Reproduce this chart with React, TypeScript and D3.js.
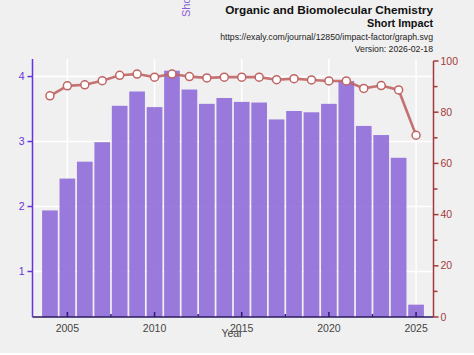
import React from "react";
import * as d3 from "d3";

const years = [2004, 2005, 2006, 2007, 2008, 2009, 2010, 2011, 2012, 2013, 2014, 2015, 2016, 2017, 2018, 2019, 2020, 2021, 2022, 2023, 2024, 2025];
const shortImpact = [1.94, 2.43, 2.69, 2.99, 3.55, 3.77, 3.53, 4.09, 3.80, 3.58, 3.67, 3.61, 3.60, 3.34, 3.47, 3.45, 3.58, 3.93, 3.24, 3.10, 2.75, 0.49];
const percentile = [86.4, 90.3, 90.7, 92.3, 94.4, 94.9, 93.7, 94.9, 93.9, 93.4, 93.7, 93.7, 93.7, 92.7, 93.1, 92.6, 92.2, 92.2, 89.3, 90.4, 88.7, 71.0];
const leftTicks = [1, 2, 3, 4];
const rightTicks = [0, 20, 40, 60, 80, 100];
const rightMinor = [10, 30, 50, 70, 90];
const xTicks = [2005, 2010, 2015, 2020, 2025];
const xMinor = [2007.5, 2012.5, 2017.5, 2022.5];

const W = 474, H = 355;
const left = 32.5, right = 433.5, top = 59, bottom = 317;
const font = "'Liberation Sans', Arial, sans-serif";

export default function App() {
  const x = d3.scaleLinear().domain([2003, 2026]).range([left, right]);
  const yL = d3.scaleLinear().domain([0.3, 4.27]).range([bottom, top]);
  const yR = d3.scaleLinear().domain([0, 100]).range([bottom, 61]);
  const bw = (x(2004) - x(2003)) * 0.9;
  const line = d3.line<number>().x((_, i) => x(years[i])).y((d) => yR(d));
  const purple = "#6633dd";
  const red = "#a33a3a";
  return (
    <svg width={W} height={H} style={{ position: "absolute", left: 0, top: 0 }} fontFamily={font}>
      <rect x={0} y={0} width={W} height={353} fill="#f0f0f0" />
      {leftTicks.map((t) => (
        <line key={"g" + t} x1={left} x2={right} y1={yL(t)} y2={yL(t)} stroke="#ffffff" strokeWidth={1.5} />
      ))}
      {xTicks.map((t) => (
        <line key={"gx" + t} x1={x(t)} x2={x(t)} y1={top} y2={bottom} stroke="#ffffff" strokeWidth={1.5} />
      ))}
      {years.map((yr, i) => (
        <rect key={yr} x={x(yr) - bw / 2} y={yL(shortImpact[i])} width={bw} height={bottom - yL(shortImpact[i])} fill="#9370db" fillOpacity={0.93} />
      ))}
      <path d={line(percentile) || ""} fill="none" stroke="#c06464" strokeOpacity={0.9} strokeWidth={2.6} />
      {percentile.map((p, i) => (
        <circle key={i} cx={x(years[i])} cy={yR(p)} r={4} fill="#ffffff" stroke="#c06464" strokeWidth={1.5} />
      ))}
      {/* bottom axis */}
      <line x1={left} x2={right} y1={bottom} y2={bottom} stroke="#2a1a60" strokeWidth={1.5} />
      {xTicks.map((t) => (
        <g key={"xt" + t}>
          <line x1={x(t)} x2={x(t)} y1={bottom} y2={bottom - 5} stroke="#2a1a70" strokeWidth={1.5} />
          <text x={x(t)} y={332} textAnchor="middle" fontSize={10.5} fill="#444">{t}</text>
        </g>
      ))}
      {xMinor.map((t) => (
        <line key={"xm" + t} x1={x(t)} x2={x(t)} y1={bottom} y2={bottom - 3} stroke="#2a1a70" strokeWidth={1.5} />
      ))}
      <text x={232} y={337} textAnchor="middle" fontSize={10.5} fill="#444">Year</text>
      {/* left axis */}
      <line x1={left} x2={left} y1={top} y2={bottom} stroke={purple} strokeWidth={1.5} />
      {leftTicks.map((t) => (
        <g key={"lt" + t}>
          <line x1={left - 5} x2={left} y1={yL(t)} y2={yL(t)} stroke={purple} strokeWidth={1.5} />
          <text x={left - 8} y={yL(t) + 3.5} textAnchor="end" fontSize={10.5} fill={purple}>{t}</text>
        </g>
      ))}
      <text transform={`translate(190,17) rotate(-90)`} fontSize={11} fill="#8a5ce0" textAnchor="start">Short Impact</text>
      {/* right axis */}
      <line x1={right} x2={right} y1={61} y2={bottom} stroke={red} strokeWidth={1.5} />
      {rightTicks.map((t) => (
        <g key={"rt" + t}>
          <line x1={right} x2={right + 5} y1={yR(t)} y2={yR(t)} stroke={red} strokeWidth={1.5} />
          <text x={right + 7} y={yR(t) + 3.5} textAnchor="start" fontSize={10.5} fill={red}>{t}</text>
        </g>
      ))}
      {rightMinor.map((t) => (
        <line key={"rm" + t} x1={right} x2={right + 4} y1={yR(t)} y2={yR(t)} stroke={red} strokeWidth={1.5} />
      ))}
      {/* titles */}
      <text x={433} y={14} textAnchor="end" fontSize={11.8} fontWeight="bold" fill="#111">Organic and Biomolecular Chemistry</text>
      <text x={433} y={27} textAnchor="end" fontSize={10.8} fontWeight="bold" fill="#111">Short Impact</text>
      <text x={433} y={40} textAnchor="end" fontSize={8.7} fill="#222">https://exaly.com/journal/12850/impact-factor/graph.svg</text>
      <text x={433} y={52} textAnchor="end" fontSize={8.7} fill="#222">Version: 2026-02-18</text>
    </svg>
  );
}
